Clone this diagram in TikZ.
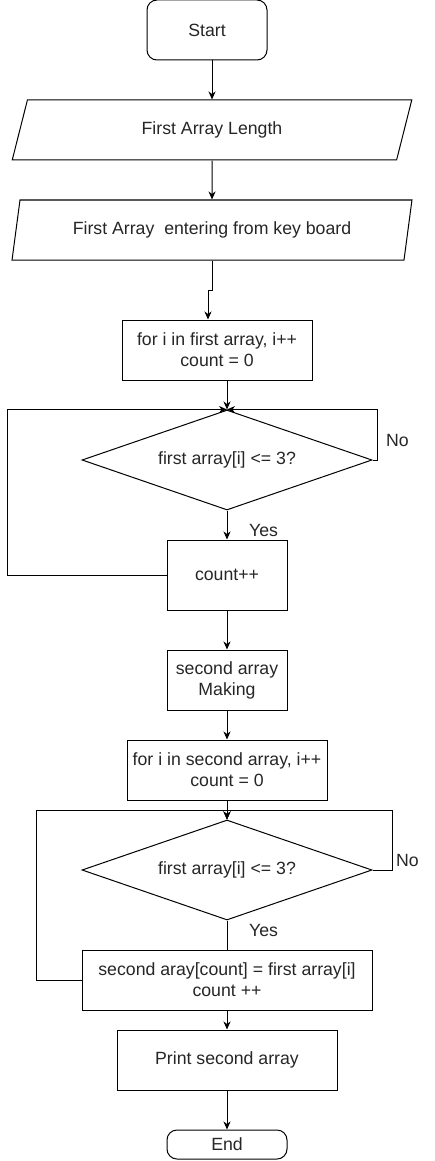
\documentclass[tikz,border=0pt]{standalone}
\usepackage{fontspec}
\setmainfont{Liberation Sans}
\usetikzlibrary{shapes.geometric,arrows.meta}
\begin{document}
\begin{tikzpicture}[x=1pt,y=-1pt,
  every node/.style={font=\fontsize{17.7}{21}\selectfont, text=black!85, inner sep=0pt, align=center},
  box/.style={draw, line width=1pt, rectangle, minimum width=#1},
  roundbox/.style={draw, line width=1pt, rectangle, rounded corners=10pt},
  para/.style={draw, line width=1pt, trapezium, trapezium left angle=70.7, trapezium right angle=109.3, trapezium stretches=true, minimum width=400pt, minimum height=60pt},
  dec/.style={draw, line width=1pt, diamond, shape aspect=2.9, minimum width=290pt, minimum height=100pt},
  arr/.style={line width=1pt, -{Stealth[length=8pt,width=7pt,inset=2.5pt]}},
  ln/.style={line width=1pt},
  lbl/.style={font=\fontsize{17.7}{21}\selectfont}
]
\useasboundingbox (0,0) rectangle (434,1161);
\node[roundbox, minimum width=120pt, minimum height=60pt] (start) at (207,30) {Start};
\node[para] (p1) at (212,130) {First Array Length};
\node[para] (p2) at (212,230) {First Array\ \ entering from key board};
\node[box=190pt, minimum height=60pt] (for1) at (217,350) {for i in first array, i++\\count = 0};
\node[dec] (d1) at (227,460) {first array[i] <= 3?};
\node[box=120pt, minimum height=70pt] (c1) at (227,575) {count++};
\node[box=120pt, minimum height=60pt] (s1) at (227,680) {second array\\Making};
\node[box=200pt, minimum height=60pt] (for2) at (227,770) {for i in second array, i++\\count = 0};
\node[dec] (d2) at (227,870) {first array[i] <= 3?};
\node[box=290pt, minimum height=60pt] (b2) at (227,980) {second aray[count] = first array[i]\\count ++};
\node[box=220pt, minimum height=60pt] (pr) at (227,1060) {Print second array};
\node[roundbox, minimum width=120pt, minimum height=29pt] (end) at (227,1144.5) {End};
\coordinate (j1) at (208,290);
\coordinate (m2) at (227,810);
% connectors
\draw[arr] (p1.north |- start.south) -- (p1.north);
\draw[arr] (p1.south) -- (p2.north);
\draw[arr] (p2.south) |- (j1) -- (j1 |- for1.north);
\draw[arr] (for1.south -| d1.north) -- (d1.north);
\draw[arr] (d1.east) -- ++(5,0) |- (d1.north);
\draw[arr] (c1.west) -- (7,575) |- (d1.north);
\draw[arr] (d1.south) -- (c1.north);
\draw[arr] (c1.south) -- (s1.north);
\draw[arr] (s1.south) -- (for2.north);
\draw[arr] (for2.south) -- (d2.north);
\draw[arr] (d2.east) -- ++(20,0) |- (m2) -- (d2.north);
\draw[arr] (b2.west) -- ++(-45,0) |- (m2) -- (d2.north);
\draw[ln] (d2.south) -- (b2.north);
\draw[arr] (b2.south) -- (pr.north);
\draw[arr] (pr.south) -- (end.north);
% labels
\node[lbl] (no1) at (397.5,440) {No};
\node[lbl] (yes1) at (263.5,530) {Yes};
\node[lbl] (no2) at (407.5,860) {No};
\node[lbl] (yes2) at (263.5,930) {Yes};
\end{tikzpicture}
\end{document}
